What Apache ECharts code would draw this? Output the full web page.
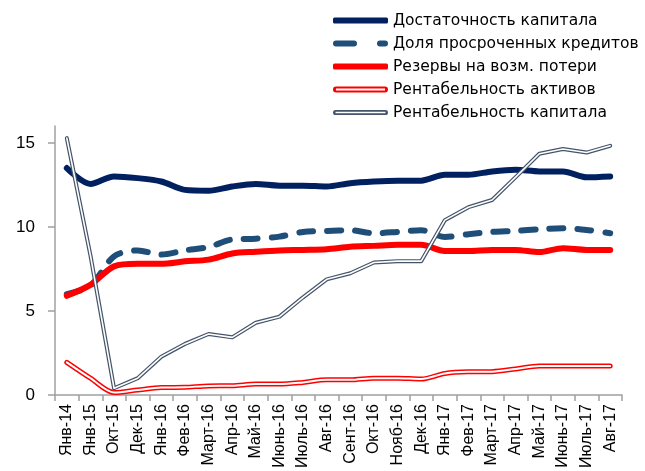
<!DOCTYPE html>
<html><head><meta charset="utf-8">
<script src="https://cdn.jsdelivr.net/npm/echarts@6/dist/echarts.min.js"></script>
<style>html,body{margin:0;padding:0;background:#fff}#c{width:645px;height:471px}</style>
</head><body><div id="c"></div>
<script>
var categories = ['Янв-14','Янв-15','Окт-15','Дек-15','Янв-16','Фев-16','Март-16','Апр-16','Май-16','Июнь-16','Июль-16','Авг-16','Сент-16','Окт-16','Нояб-16','Дек-16','Янв-17','Фев-17','Март-17','Апр-17','Май-17','Июнь-17','Июль-17','Авг-17'];
var capitalAdequacy = [13.5,12.55,13.0,12.9,12.7,12.2,12.15,12.4,12.55,12.45,12.45,12.4,12.6,12.7,12.75,12.75,13.1,13.1,13.3,13.4,13.3,13.3,12.95,13.0];
var overdueShare = [6.0,6.5,8.25,8.6,8.35,8.6,8.8,9.25,9.3,9.42,9.7,9.76,9.8,9.62,9.7,9.8,9.4,9.56,9.7,9.76,9.86,9.92,9.82,9.62];
var reserves = [5.9,6.55,7.65,7.8,7.8,7.95,8.05,8.42,8.52,8.6,8.63,8.67,8.82,8.87,8.93,8.93,8.57,8.57,8.63,8.63,8.5,8.73,8.63,8.63];
var roa = [1.94,1.0,0.15,0.3,0.44,0.46,0.54,0.55,0.65,0.65,0.75,0.9,0.9,1.0,1.0,0.95,1.28,1.38,1.39,1.55,1.73,1.73,1.73,1.73];
var roe = [15.28,8.3,0.4,1.0,2.28,3.04,3.63,3.43,4.3,4.66,5.81,6.88,7.24,7.88,7.96,7.96,10.4,11.17,11.6,12.96,14.35,14.63,14.42,14.82];
var yTicks = [0,5,10,15];
var names = ['Достаточность капитала','Доля просроченных кредитов','Резервы на возм. потери','Рентабельность активов','Рентабельность капитала'];

var chart = echarts.init(document.getElementById('c'), null, {renderer:'canvas'});
var axisGray = '#a0a0a0';
chart.setOption({
  animation:false,
  backgroundColor:'#fff',
  grid:{left:55,right:23,top:126,bottom:76,containLabel:false},
  legend:{
    orient:'vertical', left:328, top:7, itemWidth:55, itemHeight:6, itemGap:6,
    itemStyle:{borderWidth:0},
    textStyle:{fontFamily:'DejaVu Sans',fontSize:15.5,color:'#000',lineHeight:17},
    data:[
      {name:names[0],icon:'roundRect'},
      {name:names[1],icon:'path://M3,0 H21 A3,3 0 0 1 21,6 H3 A3,3 0 0 1 3,0 Z M47,0 H52 A3,3 0 0 1 52,6 H47 A3,3 0 0 1 47,0 Z'},
      {name:names[2],icon:'roundRect'},
      {name:names[3],icon:'path://M3,0 H52 A3,3 0 0 1 52,6 H3 A3,3 0 0 1 3,0 Z M3,2 V4 H52 V2 Z'},
      {name:names[4],icon:'path://M3,0.5 H52 A2.5,2.5 0 0 1 52,5.5 H3 A2.5,2.5 0 0 1 3,0.5 Z M3,2.3 V3.7 H52 V2.3 Z'}
    ]
  },
  xAxis:{
    type:'category', data:categories, boundaryGap:true,
    axisLine:{lineStyle:{color:axisGray,width:1.5}},
    axisTick:{show:true,length:6,lineStyle:{color:axisGray,width:1.5}},
    axisLabel:{rotate:90,interval:0,margin:9,fontFamily:'Liberation Sans',fontSize:16,color:'#000'}
  },
  yAxis:{
    type:'value', min:0, max:16, interval:5,
    splitLine:{show:false},
    axisLine:{show:true,lineStyle:{color:axisGray,width:1.5}},
    axisTick:{show:true,length:7,customValues:yTicks,lineStyle:{color:axisGray,width:1.5}},
    axisLabel:{customValues:yTicks,margin:20,fontFamily:'Liberation Sans',fontSize:17,color:'#000'}
  },
  series:[
    {name:names[0],type:'line',data:capitalAdequacy,symbol:'none',smooth:0.3,color:'#002060',
      lineStyle:{width:6,color:'#002060',cap:'round',join:'round'}},
    {name:names[1],type:'line',data:overdueShare,symbol:'none',smooth:0.3,color:'#1F4E79',
      lineStyle:{width:6,color:'#1F4E79',type:[14,14],cap:'round',join:'round'}},
    {name:names[2],type:'line',data:reserves,symbol:'none',smooth:0.3,color:'#FF0000',
      lineStyle:{width:6,color:'#FF0000',cap:'round',join:'round'}},
    {name:names[3],type:'line',data:roa,symbol:'none',smooth:0.3,color:'#FF0000',
      lineStyle:{width:5,color:'#FF0000',cap:'round',join:'round'}},
    {name:'roa_inner',type:'line',data:roa,symbol:'none',smooth:0.3,silent:true,color:'#fff',
      lineStyle:{width:2,color:'#ffffff',cap:'round',join:'round'}},
    {name:names[4],type:'line',data:roe,symbol:'none',smooth:false,color:'#44546A',
      lineStyle:{width:4,color:'#44546A',cap:'round',join:'round'}},
    {name:'roe_inner',type:'line',data:roe,symbol:'none',smooth:false,silent:true,color:'#fff',
      lineStyle:{width:1.6,color:'#ffffff',cap:'round',join:'round'}}
  ]
});
</script></body></html>
